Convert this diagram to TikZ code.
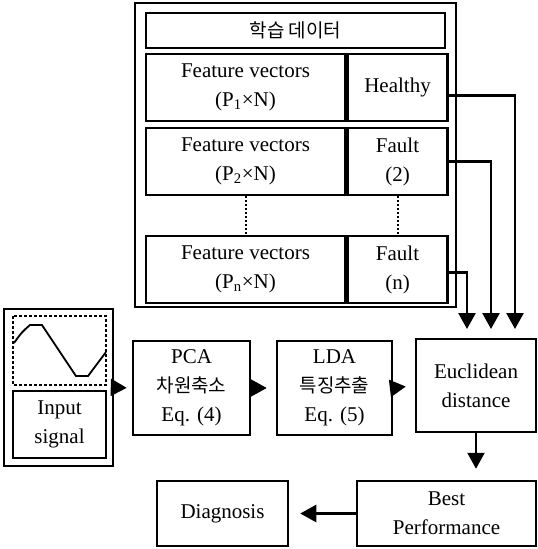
\documentclass[tikz,border=0pt]{standalone}
\usepackage{fontspec}
\setmainfont{Liberation Serif}
\newfontfamily\kor{Noto Sans CJK KR}
\usepackage{tikz}
\usetikzlibrary{calc}
\usetikzlibrary{positioning}
\usetikzlibrary{arrows.meta}
\tikzset{
  box/.style = {draw=black, line width=2.5pt, align=center, inner sep=0pt,
    font=\fontsize{21}{29}\selectfont},
  cell/.style = {box, minimum height=67pt},
  frame/.style = {draw=black, line width=2.5pt},
  flow/.style = {-{Triangle[length=16pt,width=17pt]}, line width=2.5pt},
  dots/.style = {line width=2pt, dotted}
}

\begin{document}
\begin{tikzpicture}[x=1pt, y=-1pt]
  \useasboundingbox (0,0) rectangle (538,549);
  % training data
  \draw [frame] (135,3) rectangle (456,307);
  \node (title) [box, minimum width=299pt, minimum height=35pt] at (295.5,30.5)
    {\kor\fontsize{19}{20}\selectfont 학습 데이터};
  \node (feat1) [cell, minimum width=199pt] at (245.5,87.5)
    {Feature vectors\\(P\textsubscript{1}×N)};
  \node (healthy) [cell, minimum width=100pt, right=0pt of feat1] {Healthy};
  \node (feat2) [cell, minimum width=199pt] at (245.5,161.5)
    {Feature vectors\\(P\textsubscript{2}×N)};
  \node (fault2) [cell, minimum width=100pt, right=0pt of feat2] {Fault\\(2)};
  \node (featn) [cell, minimum width=199pt] at (245.5,269.5)
    {Feature vectors\\(P\textsubscript{n}×N)};
  \node (faultn) [cell, minimum width=100pt, right=0pt of featn] {Fault\\(n)};
  \draw [dots] (feat2.south) -- (featn.north);
  \draw [dots] (fault2.south) -- (faultn.north);

  % input signal
  \node (inp) [frame, minimum width=109pt, minimum height=157pt] at (58.5,387.5) {};
  \draw [line width=1.5pt, densely dashed] (13,316) rectangle (106,385);
  \draw [line width=1.8pt] (14,343) .. controls (22,332) .. (30,325) -- (42,325)
    -- (76,376) -- (88,376) -- (106,352);
  \node (sig) [box, minimum width=93pt, minimum height=67pt] at (59.5,424.5)
    {Input\\signal};

  % processing chain
  \node (pca) [box, minimum width=117pt, minimum height=94pt] at (191.5,388)
    {PCA\\{\kor\fontsize{19}{29}\selectfont 차원축소}\\Eq. (4)};
  \node (lda) [box, minimum width=115pt, minimum height=94pt] at (334.5,388)
    {LDA\\{\kor\fontsize{19}{29}\selectfont 특징추출}\\Eq. (5)};
  \node (eucl) [box, minimum width=120pt, minimum height=93pt] at (476,385.5)
    {Euclidean\\distance};
  \node (best) [box, minimum width=179pt, minimum height=65pt] at (446.5,513.5)
    {Best\\Performance};
  \node (diag) [box, minimum width=131pt, minimum height=65pt] at (222.5,513.5)
    {Diagnosis};

  \coordinate (e1) at (467,339);
  \coordinate (e2) at (491,339);
  \coordinate (e3) at (515,339);

  \draw [flow, shorten >=5pt] (inp.east) -- (pca.west);
  \draw [flow, shorten >=9pt] (pca.east) -- (lda.west);
  \draw [flow, shorten >=9pt] (lda.east) -- (eucl.west);
  \draw [flow, shorten >=10pt] ([yshift=-8pt]healthy.east) -| (e3);
  \draw [flow, shorten >=10pt] (fault2.east) -| (e2);
  \draw [flow, shorten >=10pt] ([yshift=-3pt]faultn.east) -| (e1);
  \draw [flow, shorten >=11pt] (eucl.south) -- (eucl.south |- best.north);
  \draw [flow, shorten >=11pt] (best.west) -- (diag.east);
\end{tikzpicture}
\end{document}
